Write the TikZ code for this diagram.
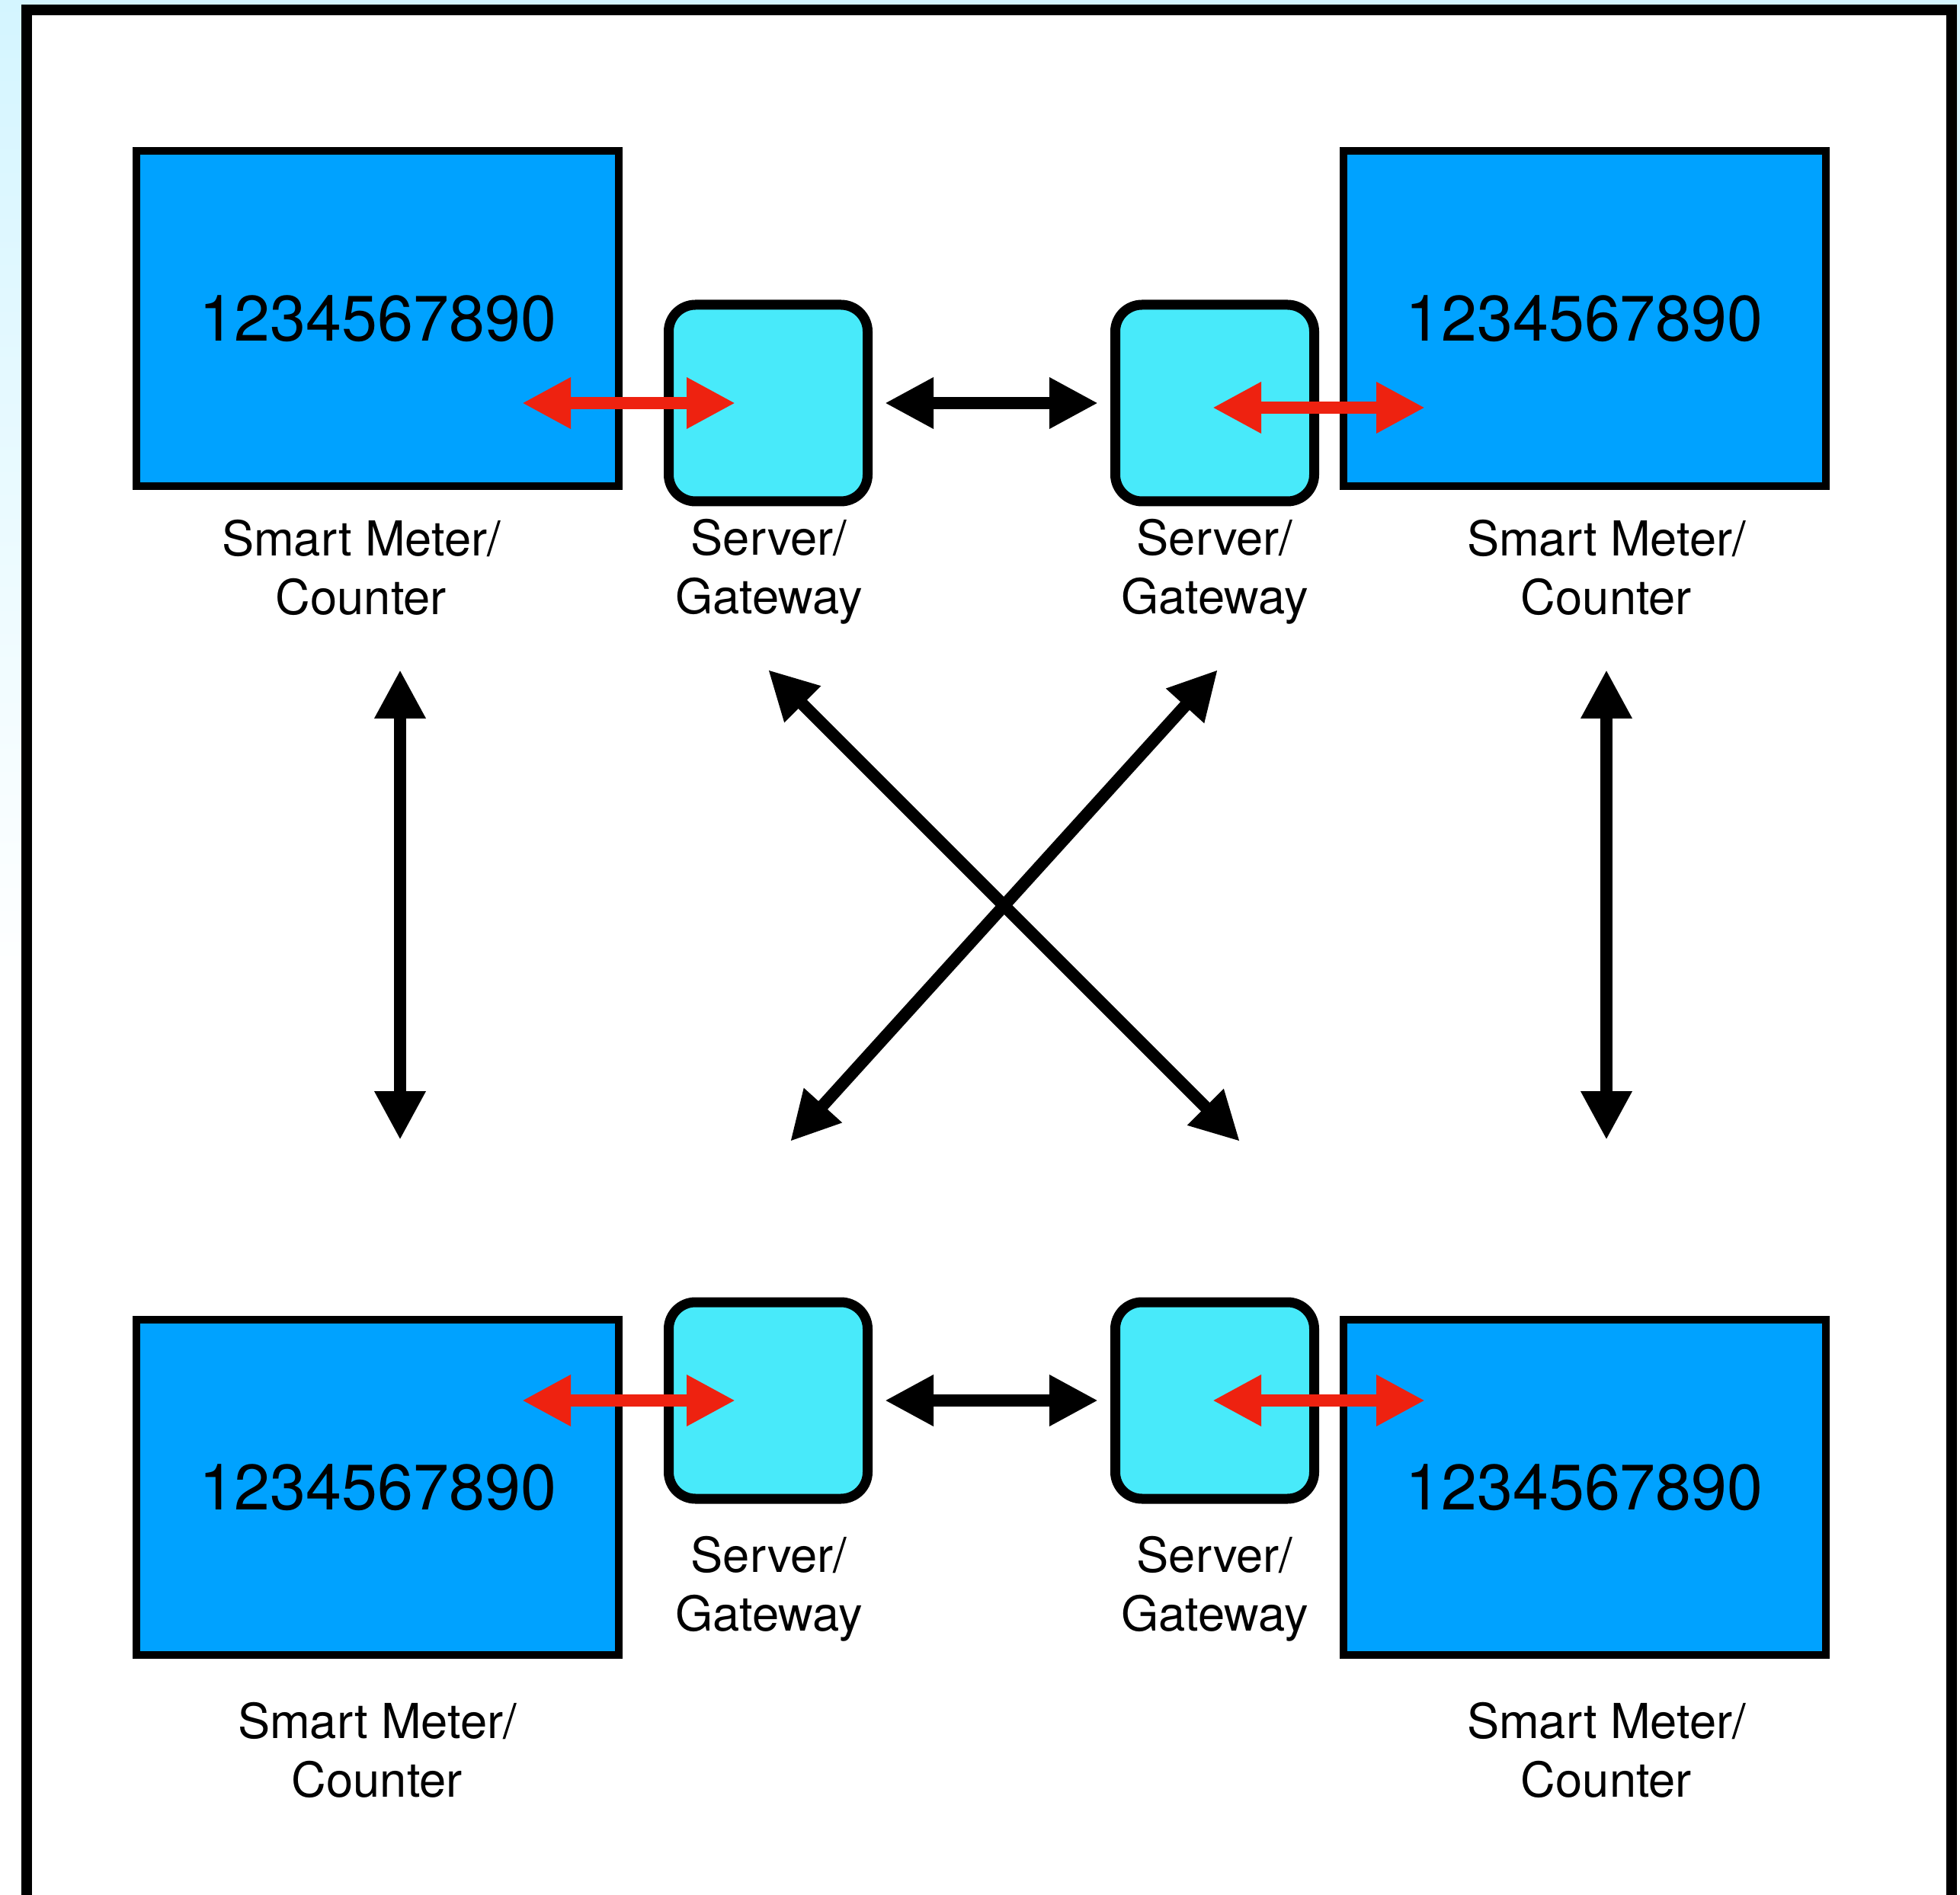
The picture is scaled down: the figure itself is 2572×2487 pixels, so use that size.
\documentclass[tikz,border=0pt]{standalone}
\usepackage{fontspec}
\setmainfont{TeX Gyre Heros}
\usetikzlibrary{arrows.meta, calc}

\definecolor{meterblue}{RGB}{0,162,255}
\definecolor{gatecyan}{RGB}{72,234,250}
\definecolor{linkred}{RGB}{238,34,16}
\definecolor{paleback}{RGB}{212,245,255}

\tikzset{
  meter/.style={draw, line width=1mm, fill=meterblue, minimum width=63.3mm, minimum height=44mm, font=\fontsize{24}{28}\selectfont},
  gateway/.style={draw, line width=1.3mm, fill=gatecyan, rounded corners=3.5mm, minimum width=26.1mm, minimum height=25.8mm},
  caption/.style={align=center, font=\fontsize{18}{21.9}\selectfont},
  link/.style={line width=1.6mm, >={Triangle[length=6.4mm, width=6.3mm]}, <->},
  radio/.style={link, draw=linkred},
}

\begin{document}
\begin{tikzpicture}[x=0.1mm, y=-0.1mm]
    \useasboundingbox (0,0) rectangle (2572,2487);
    \shade[top color=paleback, bottom color=white] (0,0) rectangle (2572,1300);
    \fill[white] (0,1300) rectangle (2572,2487);
    \draw[line width=1.4mm, fill=white] (35,2600) -- (35,13) -- (2561,13) -- (2561,2600);

    \node[meter] (m1) at (495.5,418) {1234567890};
    \node[meter] (m2) at (2079,418) {1234567890};
    \node[meter] (m3) at (495.5,1952) {1234567890};
    \node[meter] (m4) at (2079,1952) {1234567890};

    \node[gateway] (g1) at (1008,529) {};
    \node[gateway] (g2) at (1594,529) {};
    \node[gateway] (g3) at (1008,1838) {};
    \node[gateway] (g4) at (1594,1838) {};

    \node[caption] (l1) at (474,745) {Smart Meter/\\Counter};
    \node[caption] (l2) at (1009,750) {Server/\\Gateway};
    \node[caption] (l3) at (1594,750) {Server/\\Gateway};
    \node[caption] (l4) at (2108,745) {Smart Meter/\\Counter};
    \node[caption] (l5) at (1009,2085) {Server/\\Gateway};
    \node[caption] (l6) at (1594,2085) {Server/\\Gateway};
    \node[caption] (l7) at (495,2297) {Smart Meter/\\Counter};
    \node[caption] (l8) at (2108,2297) {Smart Meter/\\Counter};

    \coordinate (a1) at (525,879);
    \coordinate (a2) at (1008,879);
    \coordinate (a3) at (1598,879);
    \coordinate (a4) at (2108,879);
    \coordinate (b1) at (525,1496);
    \coordinate (b2) at (1037,1498);
    \coordinate (b3) at (1627,1498);
    \coordinate (b4) at (2108,1496);

    \draw[radio] ($(g1)+(-323,0)$) -- ($(g1)+(-43,0)$);
    \draw[radio] ($(g2)+(-3,6)$) -- ($(g2)+(276,6)$);
    \draw[radio] ($(g3)+(-323,0)$) -- ($(g3)+(-43,0)$);
    \draw[radio] ($(g4)+(-3,0)$) -- ($(g4)+(276,0)$);

    \draw[link, shorten <=1.6mm, shorten >=1.6mm] (g1) -- (g2);
    \draw[link, shorten <=1.6mm, shorten >=1.6mm] (g3) -- (g4);

    \draw[link] (a1) -- (b1);
    \draw[link] (a4) -- (b4);
    \draw[link] (a2) -- (b3);
    \draw[link] (a3) -- (b2);
\end{tikzpicture}
\end{document}
